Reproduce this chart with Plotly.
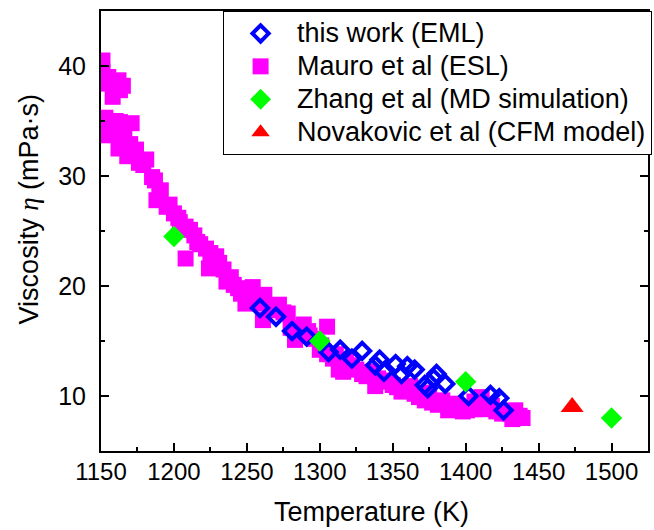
import plotly.graph_objects as go

# this work (EML)
eml_T = [1259, 1270, 1281, 1291, 1306, 1314, 1322, 1329, 1338, 1341, 1344, 1352,
         1356, 1360, 1365, 1372, 1374, 1378, 1380, 1386, 1402, 1417, 1423, 1426]
eml_v = [18.0, 17.2, 15.9, 15.4, 14.0, 14.2, 13.4, 14.1, 12.8, 13.3, 12.2, 12.9,
         12.0, 12.7, 12.4, 11.0, 10.7, 11.6, 12.0, 11.1, 10.0, 10.1, 9.8, 8.7]

# Mauro et al (ESL)
esl_T = [1151, 1151, 1154, 1155, 1158, 1162, 1163, 1165,
         1153, 1155, 1154, 1160, 1163, 1166, 1171, 1163, 1162, 1168, 1170, 1174,
         1176, 1179, 1181, 1185, 1187, 1191, 1188, 1190, 1195, 1197, 1200, 1203,
         1204, 1208, 1211, 1214, 1216, 1208, 1218, 1222, 1225, 1229, 1224, 1231,
         1234, 1236, 1239, 1241, 1244, 1246, 1250, 1254, 1249, 1254, 1257, 1261,
         1262, 1261, 1266, 1272, 1275, 1278, 1280, 1283, 1286, 1289, 1292, 1293,
         1296, 1300, 1301, 1305, 1305, 1309, 1311, 1313, 1316, 1318, 1322, 1325,
         1329, 1332, 1335, 1338, 1340, 1344, 1347, 1350, 1353, 1356, 1358, 1362,
         1365, 1368, 1372, 1375, 1377, 1381, 1384, 1388, 1392, 1395, 1398, 1401,
         1406, 1406, 1411, 1413, 1418, 1421, 1425, 1430, 1434, 1437, 1439, 1432]
esl_v = [40.5, 39.5, 38.4, 39.0, 37.2, 38.7, 37.8, 38.2,
         35.3, 34.6, 33.7, 35.0, 34.9, 33.9, 34.8, 33.6, 32.5, 31.8, 32.9, 32.4,
         31.2, 31.0, 31.5, 29.9, 29.6, 28.7, 27.8, 28.2, 27.2, 27.4, 26.6, 26.2,
         25.8, 25.4, 25.1, 24.6, 24.0, 22.5, 23.8, 23.4, 23.0, 22.7, 21.6, 22.1,
         21.5, 20.4, 20.8, 20.1, 19.8, 19.3, 19.0, 19.0, 18.4, 19.9, 18.6, 18.4,
         19.2, 16.9, 17.8, 18.3, 17.6, 17.5, 16.2, 15.1, 16.0, 16.5, 15.9, 15.5,
         15.2, 14.2, 14.6, 16.3, 13.8, 13.4, 13.8, 12.4, 12.2, 13.2, 12.8, 12.4,
         12.0, 11.8, 12.2, 10.9, 11.6, 11.4, 11.3, 11.0, 10.8, 10.4, 10.5, 10.9,
         10.2, 9.9, 9.6, 10.3, 9.4, 9.2, 9.6, 8.7, 9.3, 8.9, 8.6, 8.7,
         9.5, 8.8, 9.9, 8.8, 9.1, 8.6, 8.4, 8.4, 8.7, 8.2, 8.0, 7.9]

# Zhang et al (MD simulation)
md_T = [1200, 1300, 1400, 1500]
md_v = [24.5, 15.0, 11.3, 8.0]

# Novakovic et al (CFM model)
cfm_T = [1473]
cfm_v = [9.0]

x_ticks = [1150, 1200, 1250, 1300, 1350, 1400, 1450, 1500]
y_ticks = [10, 20, 30, 40]

FONT = "Liberation Sans, Arial, sans-serif"


def big(s):
    return '<span style="font-size:27px">' + s + '</span>'


fig = go.Figure()
fig.add_trace(go.Scatter(x=esl_T, y=esl_v, mode="markers", name=big("Mauro et al (ESL)"),
                         legendrank=2,
                         marker=dict(symbol="square", size=16, color="#ff00ff",
                                     line=dict(width=0))))
fig.add_trace(go.Scatter(x=eml_T, y=eml_v, mode="markers", name=big("this work (EML)"),
                         legendrank=1,
                         marker=dict(symbol="diamond-open", size=12.5, color="#0000ff",
                                     line=dict(width=4, color="#0000ff"))))
fig.add_trace(go.Scatter(x=md_T, y=md_v, mode="markers", name=big("Zhang et al (MD simulation)"),
                         legendrank=3,
                         marker=dict(symbol="diamond", size=16.5, color="#00ff00",
                                     line=dict(width=0))))
fig.add_trace(go.Scatter(x=cfm_T, y=cfm_v, mode="markers", name=big("Novakovic et al (CFM model)"),
                         legendrank=4,
                         marker=dict(symbol="triangle-up", size=20, color="#ff0000",
                                     line=dict(width=0))))

fig.update_layout(
    width=654, height=530,
    margin=dict(l=101, r=2, t=11, b=79),
    paper_bgcolor="white", plot_bgcolor="white",
    font=dict(family=FONT, size=24, color="black"),
    showlegend=True,
    legend=dict(x=0.2232, y=1, xanchor="left", yanchor="top",
                bgcolor="white", bordercolor="black", borderwidth=1,
                font=dict(family=FONT, size=23, color="black"),
                itemwidth=63, tracegroupgap=0),
    xaxis=dict(range=[1150, 1525], tickmode="array", tickvals=x_ticks,
               ticktext=[str(v) for v in x_ticks],
               ticks="inside", ticklen=8, tickwidth=1.5, tickcolor="black",
               minor=dict(dtick=25, tick0=1150, ticks="inside", ticklen=4,
                          tickwidth=1.5, tickcolor="black"),
               showline=True, linecolor="black", linewidth=2, mirror=True,
               showgrid=False, zeroline=False, ticklabelstandoff=-2,
               tickfont=dict(size=24)),
    yaxis=dict(range=[5, 45], tickmode="array", tickvals=y_ticks,
               ticktext=[str(v) for v in y_ticks],
               ticks="inside", ticklen=8, tickwidth=1.5, tickcolor="black",
               minor=dict(dtick=5, tick0=5, ticks="inside", ticklen=4,
                          tickwidth=1.5, tickcolor="black"),
               showline=True, linecolor="black", linewidth=2, mirror="ticks",
               showgrid=False, zeroline=False, ticklabelstandoff=8,
               tickfont=dict(size=25)),
    annotations=[
        dict(text="Temperature (K)", xref="paper", yref="paper",
             x=0.4946, y=-0.1386, xanchor="center", yanchor="middle",
             showarrow=False, font=dict(family=FONT, size=27)),
        dict(text="Viscosity <span style=\"font-family:'Liberation Serif', 'Times New Roman', serif\"><i>η</i></span> (mPa·s)",
             xref="paper", yref="paper", textangle=-90,
             x=-0.1325, y=0.548, xanchor="center", yanchor="middle",
             showarrow=False, font=dict(family=FONT, size=27)),
    ],
)

fig.write_html("out.html", config={"displayModeBar": False},
               post_script="document.body.style.margin='0px';")
